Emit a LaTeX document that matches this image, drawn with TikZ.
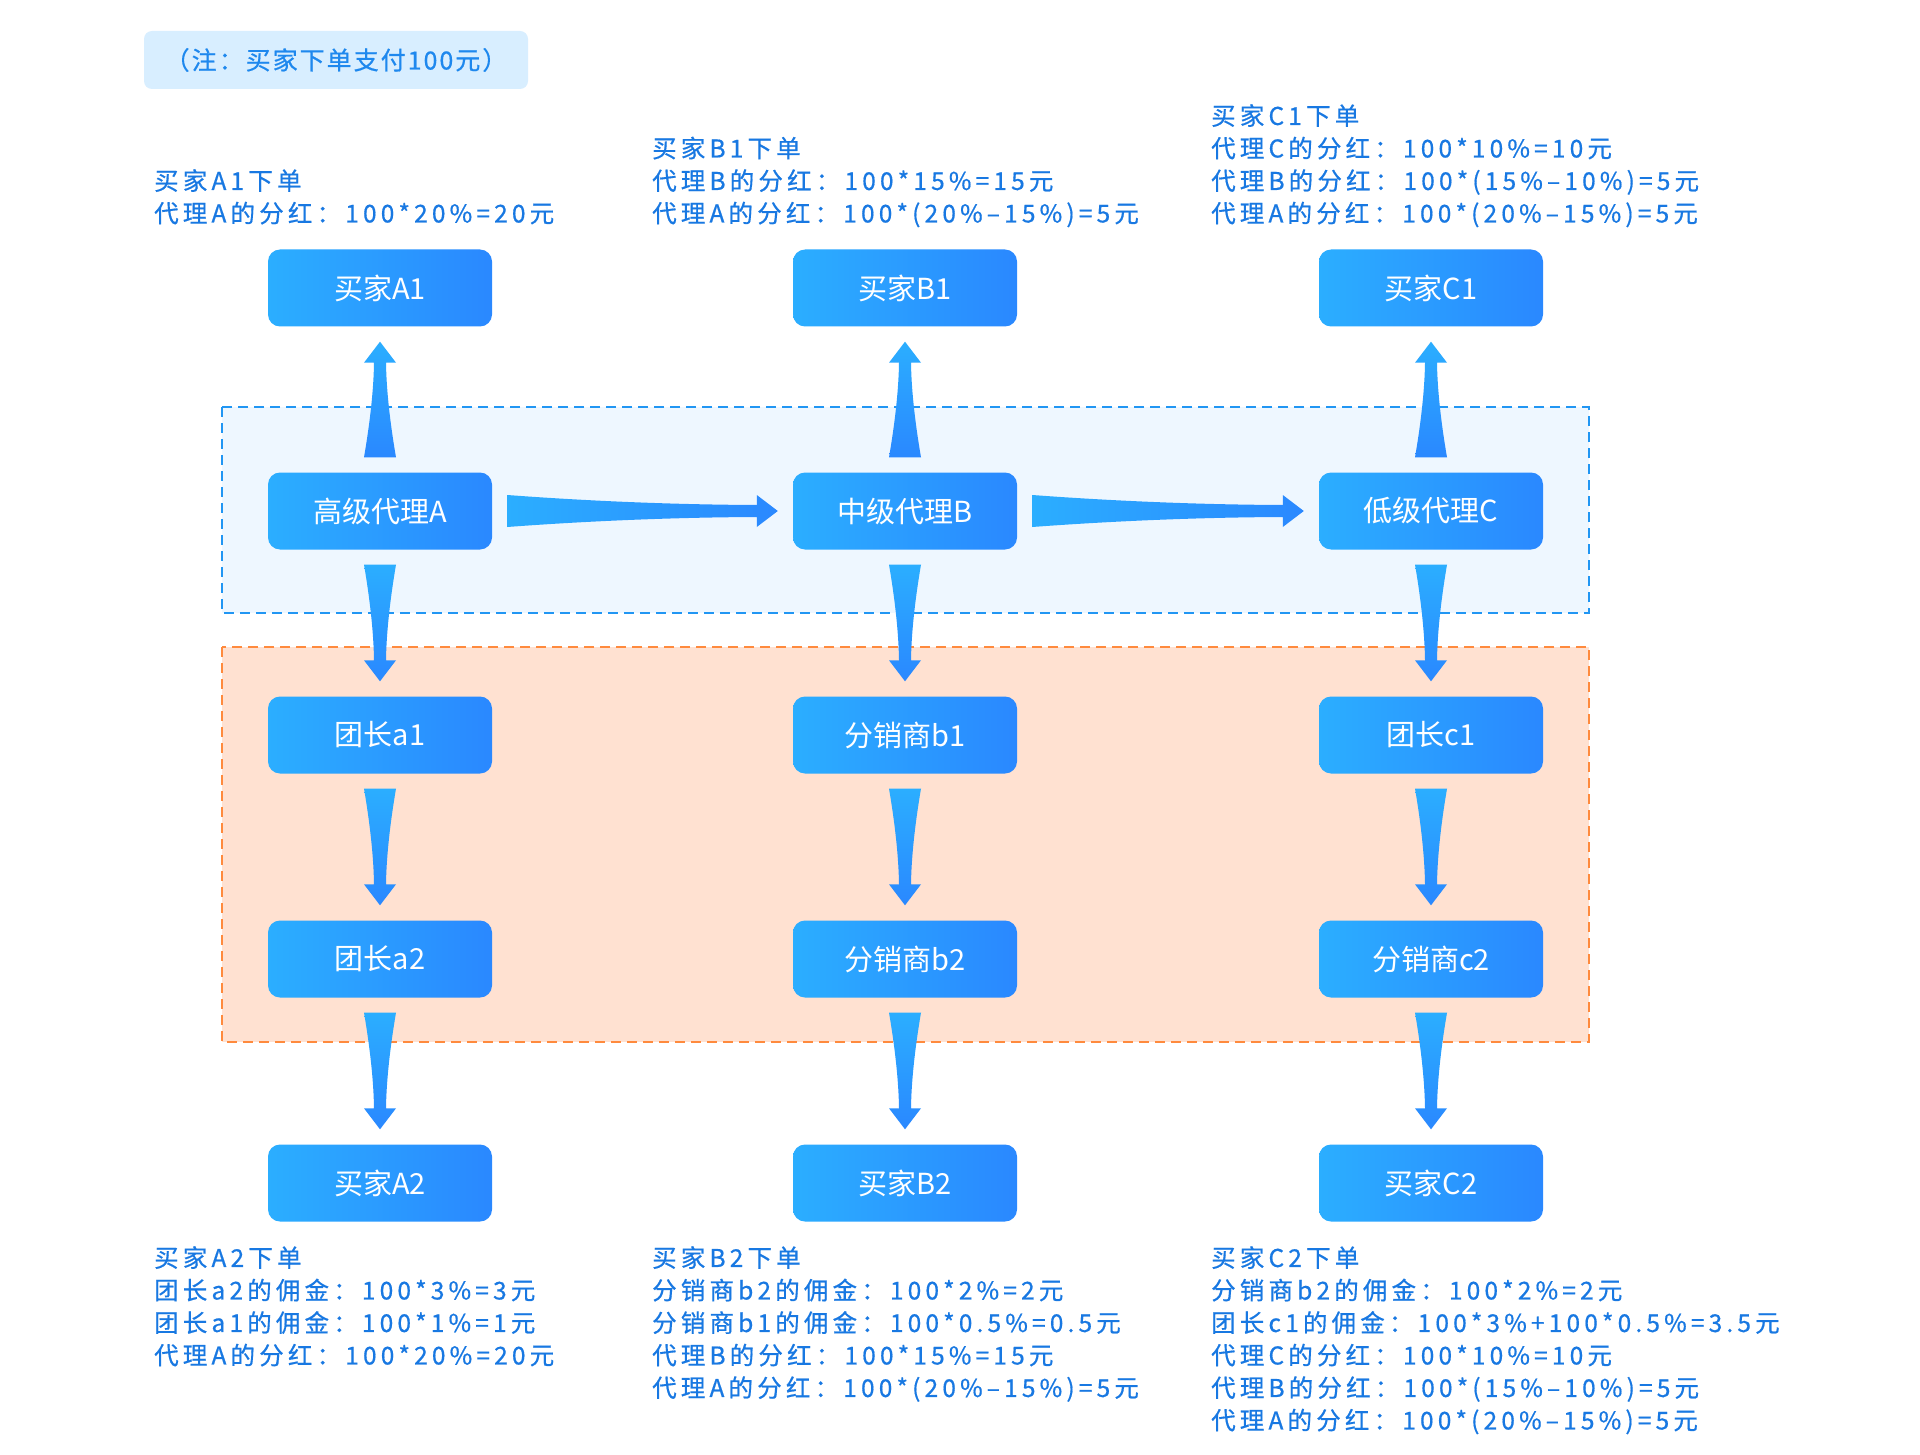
\documentclass[tikz,border=0pt]{standalone}
\usepackage{fontspec}
\setmainfont{Noto Sans CJK SC}
\newfontfamily\txtfont[LetterSpace=17,FakeBold=0.6]{Noto Sans CJK SC}
\newfontfamily\notefont[LetterSpace=8,FakeBold=0.6]{Noto Sans CJK SC}
\usetikzlibrary{calc}
\definecolor{nlight}{HTML}{2BAEFF}
\definecolor{ndark}{HTML}{2A88FF}
\definecolor{tblue}{HTML}{1878E2}
\definecolor{notetext}{HTML}{1E88EE}
\definecolor{notefill}{HTML}{D8EEFF}
\definecolor{bluefill}{HTML}{EEF7FF}
\definecolor{bluedash}{HTML}{2196F3}
\definecolor{orfill}{HTML}{FFE1D1}
\definecolor{ordash}{HTML}{FF8A3D}
\newcommand\tarr[3][]{%
  \path ($(#2)!15pt!(#3)$) coordinate (tA) ($(#3)!15pt!(#2)$) coordinate (tB);
  \path ($(tA)!0.15!(tB)$) coordinate (tC1) ($(tA)!0.5!(tB)$) coordinate (tC2) ($(tB)!21pt!(tA)$) coordinate (tH);
  \shade[#1] ($(tA)!16pt!90:(tB)$) .. controls ($(tC1)!13pt!90:(tB)$) and ($(tC2)!6.5pt!90:(tB)$) .. ($(tH)!6pt!90:(tB)$)
    -- ($(tH)!16pt!90:(tB)$) -- (tB) -- ($(tH)!16pt!-90:(tB)$) -- ($(tH)!6pt!-90:(tB)$)
    .. controls ($(tC2)!6.5pt!-90:(tB)$) and ($(tC1)!13pt!-90:(tB)$) .. ($(tA)!16pt!-90:(tB)$) -- cycle;
}
\tikzset{
  box/.style={rounded corners=12pt, minimum width=224pt, minimum height=77pt, inner sep=0pt,
    left color=nlight, right color=ndark, text=white, font=\fontsize{29}{34}\selectfont},
  txt/.style={anchor=north west, align=left, inner sep=0pt, text=tblue,
    font=\txtfont\fontsize{24.5}{32.5}\selectfont},
  vsh/.style={top color=nlight, bottom color=ndark},
  hsh/.style={left color=nlight, right color=ndark},
}
\begin{document}
\begin{tikzpicture}[x=1pt,y=-1pt]
\useasboundingbox (0,0) rectangle (1920,1455);
\fill[white] (0,0) rectangle (1920,1455);
% note
\node[rounded corners=8pt, fill=notefill, minimum width=384pt, minimum height=58pt, inner sep=0pt,
  text=notetext, font=\notefont\fontsize{25}{30}\selectfont] (note) at (336,60) {（注：买家下单支付100元）};
% group boxes
\draw[bluedash, fill=bluefill, line width=2.5pt, dash pattern=on 10pt off 6pt] (222,407) rectangle (1589,613);
\draw[ordash, fill=orfill, line width=2.5pt, dash pattern=on 10pt off 6pt] (222,647) rectangle (1589,1042);
% nodes
\node[box] (bA1) at (380,288) {买家A1};
\node[box] (bB1) at (905,288) {买家B1};
\node[box] (bC1) at (1431,288) {买家C1};
\node[box] (hA) at (380,511) {高级代理A};
\node[box] (mB) at (905,511) {中级代理B};
\node[box] (lC) at (1431,511) {低级代理C};
\node[box] (ta1) at (380,735) {团长a1};
\node[box] (fb1) at (905,735) {分销商b1};
\node[box] (tc1) at (1431,735) {团长c1};
\node[box] (ta2) at (380,959) {团长a2};
\node[box] (fb2) at (905,959) {分销商b2};
\node[box] (fc2) at (1431,959) {分销商c2};
\node[box] (bA2) at (380,1183) {买家A2};
\node[box] (bB2) at (905,1183) {买家B2};
\node[box] (bC2) at (1431,1183) {买家C2};
% arrows
\tarr[vsh]{hA.north}{bA1.south}
\tarr[vsh]{mB.north}{bB1.south}
\tarr[vsh]{lC.north}{bC1.south}
\tarr[hsh]{hA.east}{mB.west}
\tarr[hsh]{mB.east}{lC.west}
\tarr[vsh]{hA.south}{ta1.north}
\tarr[vsh]{mB.south}{fb1.north}
\tarr[vsh]{lC.south}{tc1.north}
\tarr[vsh]{ta1.south}{ta2.north}
\tarr[vsh]{fb1.south}{fb2.north}
\tarr[vsh]{tc1.south}{fc2.north}
\tarr[vsh]{ta2.south}{bA2.north}
\tarr[vsh]{fb2.south}{bB2.north}
\tarr[vsh]{fc2.south}{bC2.north}
% texts
\node[txt] (tA1) at (154,169) {买家A1下单\\代理A的分红：100*20\%=20元};
\node[txt] (tB1) at (652,136.5) {买家B1下单\\代理B的分红：100*15\%=15元\\代理A的分红：100*(20\%–15\%)=5元};
\node[txt] (tC1t) at (1211,104) {买家C1下单\\代理C的分红：100*10\%=10元\\代理B的分红：100*(15\%–10\%)=5元\\代理A的分红：100*(20\%–15\%)=5元};
\node[txt] (tA2) at (154,1246) {买家A2下单\\团长a2的佣金：100*3\%=3元\\团长a1的佣金：100*1\%=1元\\代理A的分红：100*20\%=20元};
\node[txt] (tB2) at (652,1246) {买家B2下单\\分销商b2的佣金：100*2\%=2元\\分销商b1的佣金：100*0.5\%=0.5元\\代理B的分红：100*15\%=15元\\代理A的分红：100*(20\%–15\%)=5元};
\node[txt] (tC2) at (1211,1246) {买家C2下单\\分销商b2的佣金：100*2\%=2元\\团长c1的佣金：100*3\%+100*0.5\%=3.5元\\代理C的分红：100*10\%=10元\\代理B的分红：100*(15\%–10\%)=5元\\代理A的分红：100*(20\%–15\%)=5元};
\end{tikzpicture}
\end{document}
